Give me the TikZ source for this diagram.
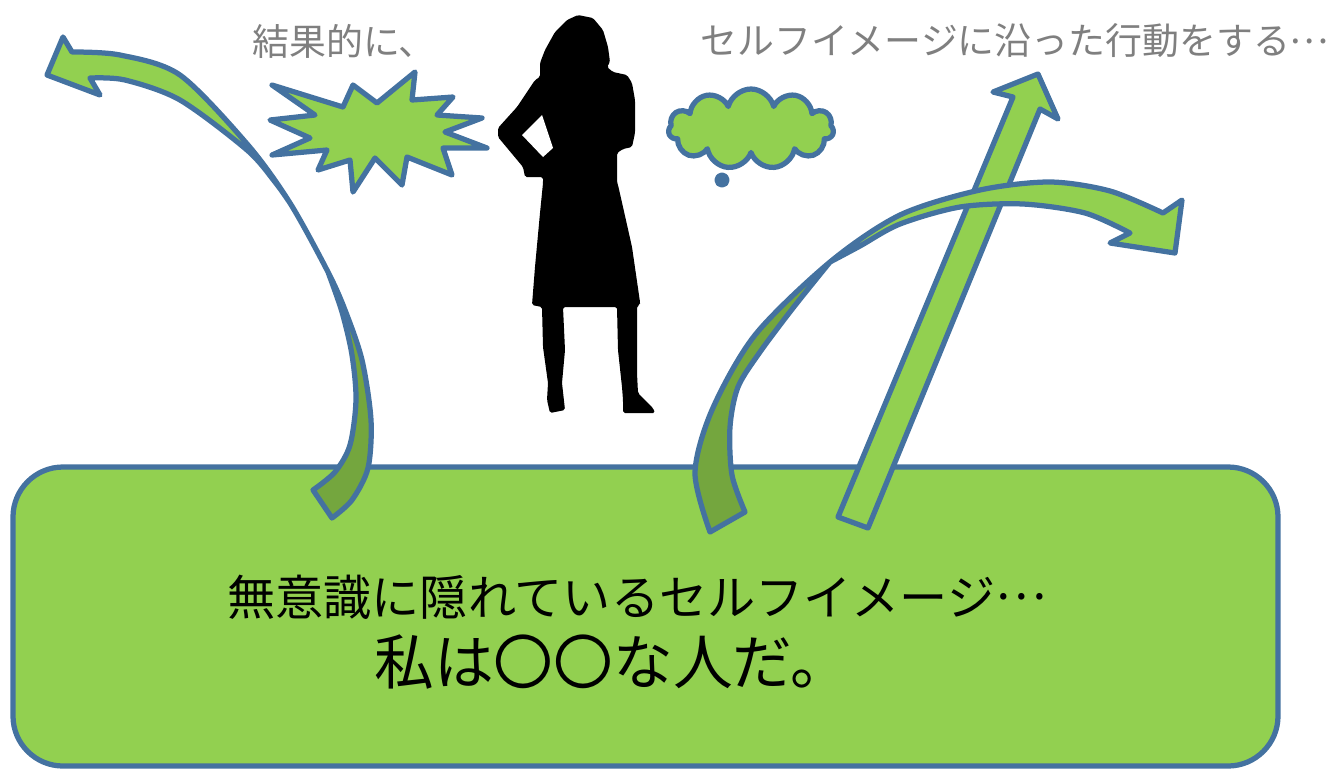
\documentclass[tikz,border=0pt]{standalone}
\usepackage{fontspec}
\setmainfont{Noto Sans CJK JP}
\usetikzlibrary{shapes.symbols}
\definecolor{leaf}{RGB}{146,208,80}
\definecolor{moss}{RGB}{116,166,62}
\definecolor{rim}{RGB}{68,114,160}
\definecolor{caption}{RGB}{127,127,127}
\newcommand{\middots}{\raisebox{0.32em}{…}}
\tikzset{
  rim line/.style={draw=rim, line width=0.105cm, line join=round},
  pale part/.style={fill=leaf},
  dark part/.style={fill=moss},
  top label/.style={anchor=west, inner sep=0pt, text=caption, font=\fontsize{21pt}{24pt}\selectfont},
  box label/.style={anchor=west, inner sep=0pt, text=black},
}
\begin{document}
\begin{tikzpicture}[x=0.02cm, y=-0.02cm]
        \useasboundingbox (0,0) rectangle (1336,769);
        \draw[rim line, pale part, rounded corners=1cm] (13,467) rectangle (1278,766);
        \node[box label, font=\fontsize{27.4pt}{32pt}\selectfont] (hidden) at (227,597) {無意識に隠れているセルフイメージ\middots};
        \node[box label, font=\fontsize{34pt}{40pt}\selectfont] (belief) at (374,662) {私は〇〇な人だ。};
        % straight arrow, lies under the curved one
        \filldraw[rim line, pale part] (838,517) -- (1013,97) -- (993,92) -- (1038,74) -- (1058,119) -- (1040,109) -- (868,528) -- cycle;
        % right curved arrow
        \fill[pale part] plot[smooth] coordinates {(830,262) (860,246) (900,224) (960,207) (1023,204) (1085,213) (1130,233)}
          -- (1110,243) -- (1175,253) -- (1182,200) -- (1163,213)
          -- plot[smooth] coordinates {(1163,213) (1110,191) (1050,182) (980,190) (900,215) (830,262)} -- cycle;
        \fill[dark part] plot[smooth] coordinates {(830,262) (755,335) (712,410) (695,473) (710,532)}
          -- (745,512) -- plot[smooth] coordinates {(745,512) (732,475) (730,427) (738,387) (760,352) (793,308) (830,262)} -- cycle;
        \draw[rim line] plot[smooth] coordinates {(830,262) (860,246) (900,224) (960,207) (1023,204) (1085,213) (1130,233)}
          -- (1110,243) -- (1175,253) -- (1182,200) -- (1163,213)
          -- plot[smooth] coordinates {(1163,213) (1110,191) (1050,182) (980,190) (900,215) (830,262) (755,335) (712,410) (695,473) (710,532)}
          -- (745,512) -- plot[smooth] coordinates {(745,512) (732,475) (730,427) (738,387) (760,352) (793,308) (830,262)};
        % left curved arrow
        \fill[pale part] plot[smooth] coordinates {(290,203) (275,182) (247,150) (180,100) (125,80) (90,78)}
          -- (100,95) -- (47,75) -- (63,37) -- (72,52)
          -- plot[smooth] coordinates {(72,52) (120,55) (180,75) (248,145) (290,203)} -- cycle;
        \fill[dark part] plot[smooth] coordinates {(328,272) (345,310) (362,360) (371,420) (368,468) (352,500) (332,518)}
          -- (313,490) -- plot[smooth] coordinates {(313,490) (335,472) (350,445) (356,400) (352,355) (342,312) (328,272)} -- cycle;
        \draw[rim line] plot[smooth] coordinates {(290,203) (275,182) (247,150) (180,100) (125,80) (90,78)}
          -- (100,95) -- (47,75) -- (63,37) -- (72,52)
          -- plot[smooth] coordinates {(72,52) (120,55) (180,75) (248,145) (290,203) (328,272) (345,310) (362,360) (371,420) (368,468) (352,500) (332,518)}
          -- (313,490) -- plot[smooth] coordinates {(313,490) (335,472) (350,445) (356,400) (352,355) (342,312) (328,272)};
        % burst
        \filldraw[rim line, pale part] (272,85) -- (343,107) -- (353,85) -- (377,103) -- (415,72) -- (412,100) -- (453,97) -- (437,115)
          -- (482,118) -- (445,132) -- (487,148) -- (443,148) -- (452,175) -- (407,157) -- (402,185) -- (375,158) -- (353,192)
          -- (350,160) -- (318,170) -- (327,150) -- (272,155) -- (310,138) -- (270,120) -- (315,115) -- cycle;
        % woman
        \fill[black, rounded corners=1pt] (578,15) -- (593,18) -- (603,30) -- (608,47) -- (610,62) -- (607,67) -- (613,72) -- (627,75)
          -- (632,83) -- (635,100) -- (635,133) -- (632,147) -- (623,149) -- (617,153) -- (617,182) -- (618,185) -- (623,207)
          -- (632,247) -- (640,302) -- (640,305) -- (637,306) -- (637,333) -- (637,373) -- (638,393) -- (653,408) -- (655,413)
          -- (623,413) -- (623,400) -- (622,387) -- (618,350) -- (617,307) -- (563,307) -- (565,350) -- (562,383) -- (565,410)
          -- (550,413) -- (547,400) -- (548,383) -- (543,347) -- (542,307) -- (532,305) -- (535,267) -- (540,213) -- (543,183)
          -- (543,177) -- (525,177) -- (523,167) -- (498,137) -- (498,128) -- (517,107) -- (535,80) -- (540,77) -- (540,63)
          -- (545,50) -- (555,32) -- (567,20) -- cycle;
        \fill[white] (522,135) -- (542,115) -- (553,148) -- (543,157) -- cycle;
        % thought cloud
        \node[cloud, cloud puffs=11, aspect=2.1, rim line, pale part, minimum width=3.3cm, minimum height=1.6cm, inner sep=0pt] (thought) at (751,129) {};
        \node[circle, rim line, fill=rim, minimum size=0.2cm, inner sep=0pt] (bubble) at (722,180) {};
        \node[top label] (result) at (252,41) {結果的に、};
        \node[top label] (action) at (700,41) {セルフイメージに沿った行動をする\middots};
\end{tikzpicture}
\end{document}
